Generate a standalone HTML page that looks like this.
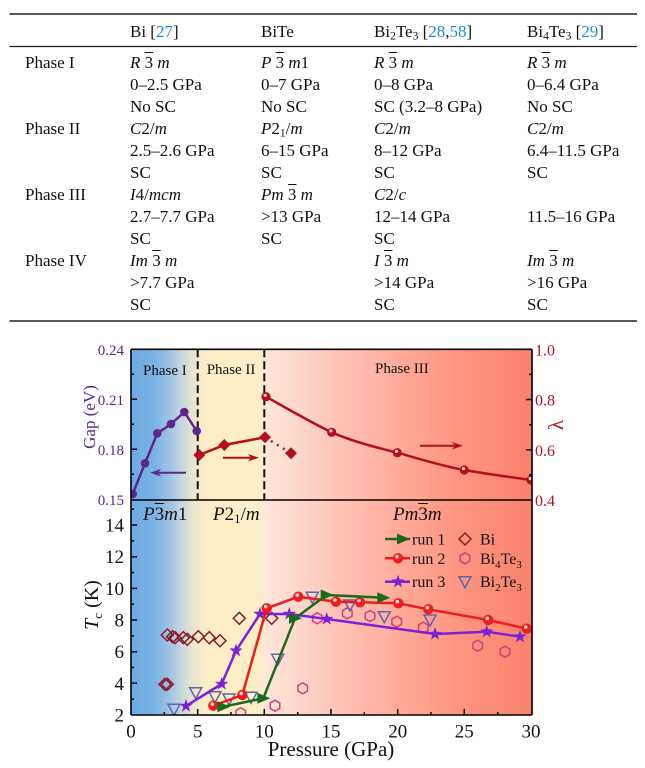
<!DOCTYPE html>
<html><head><meta charset="utf-8">
<style>
html,body{margin:0;padding:0;background:#fff}
#w{position:relative;width:645px;height:768px;overflow:hidden;background:#fff}
svg{position:absolute;left:0;top:0}
.t{position:absolute;font:17px/22px "Liberation Serif",serif;color:#111;white-space:nowrap}
.t i{font-style:italic}
.ob{text-decoration:overline}
.r{color:#1d8ed6}
.t sub{font-size:0.68em;vertical-align:-0.22em;line-height:0}
.lb{position:absolute;font:italic 19px/22px "Liberation Serif",serif;color:#111;white-space:nowrap}
.lb .n{font-style:normal}
.lb sub{font-size:0.68em;vertical-align:-0.25em;line-height:0;font-style:normal}
</style></head><body>
<div id="w">
<svg width="645" height="768" viewBox="0 0 645 768" xmlns="http://www.w3.org/2000/svg">
<defs>
<linearGradient id="bg" gradientUnits="userSpaceOnUse" x1="131" y1="0" x2="532" y2="0">
<stop offset="0" stop-color="#6caae4"/>
<stop offset="0.06" stop-color="#7ab3e4"/>
<stop offset="0.097" stop-color="#a0c4e4"/>
<stop offset="0.127" stop-color="#c8d6dc"/>
<stop offset="0.152" stop-color="#e6e4d2"/>
<stop offset="0.172" stop-color="#f6eac8"/>
<stop offset="0.209" stop-color="#fdeec4"/>
<stop offset="0.317" stop-color="#fdeec6"/>
<stop offset="0.337" stop-color="#ffe6d8"/>
<stop offset="0.421" stop-color="#ffd6cc"/>
<stop offset="0.499" stop-color="#ffc6ba"/>
<stop offset="0.666" stop-color="#ffab98"/>
<stop offset="0.831" stop-color="#ff937e"/>
<stop offset="1" stop-color="#f8826c"/>
</linearGradient>
<clipPath id="cp"><rect x="131" y="349.3" width="401" height="365.7"/></clipPath>
<g id="star"><polygon points="0,-7 1.646,-2.265 6.657,-2.163 2.663,0.865 4.114,5.663 0,2.8 -4.114,5.663 -2.663,0.865 -6.657,-2.163 -1.646,-2.265"/></g>
<g id="tri"><polygon points="-6,-5.5 7,0 -6,5.5"/></g>
<g id="rc"><circle r="5.2" fill="#f01c1c"/><circle cx="-1" cy="-1.6" r="1.8" fill="#fff" opacity="0.85"/></g>
<g id="lc"><circle r="4.6" fill="#b3101e"/><circle cx="-0.8" cy="-1.4" r="1.6" fill="#fff" opacity="0.8"/></g>
<g id="dm"><polygon points="0,-6 6,0 0,6 -6,0" fill="none" stroke="#8c1c2c" stroke-width="1.5"/></g>
<g id="hx"><polygon points="0,-5.5 4.76,-2.75 4.76,2.75 0,5.5 -4.76,2.75 -4.76,-2.75" fill="none" stroke="#d43c7c" stroke-width="1.5"/></g>
<g id="dt"><polygon points="-6,-5 6,-5 0,6" fill="none" stroke="#5868b0" stroke-width="1.5"/></g>
<g id="fd"><polygon points="0,-6 6,0 0,6 -6,0" fill="#b3101e"/></g>
</defs>

<!-- table rules -->
<line x1="9.5" y1="14" x2="637" y2="14" stroke="#222" stroke-width="1.5"/>
<line x1="9.5" y1="46.5" x2="637" y2="46.5" stroke="#222" stroke-width="1.2"/>
<line x1="9.5" y1="321" x2="637" y2="321" stroke="#222" stroke-width="1.5"/>

<!-- chart background -->
<rect x="131" y="349.3" width="401" height="365.7" fill="url(#bg)"/>

<g clip-path="url(#cp)">
<!-- dashed phase lines -->
<line x1="197.7" y1="349.3" x2="197.7" y2="500" stroke="#111" stroke-width="2" stroke-dasharray="8,4"/>
<line x1="264.3" y1="349.3" x2="264.3" y2="500" stroke="#111" stroke-width="2" stroke-dasharray="8,4"/>

<!-- gap series -->
<polyline points="132.7,494 145,463.3 157.3,433.3 171,424 184.3,412 196.7,431" fill="none" stroke="#5e2590" stroke-width="2.5"/>
<g fill="#5e2590">
<circle cx="132.7" cy="494" r="4.3"/><circle cx="145" cy="463.3" r="4.3"/><circle cx="157.3" cy="433.3" r="4.3"/><circle cx="171" cy="424" r="4.3"/><circle cx="184.3" cy="412" r="4.3"/><circle cx="196.7" cy="431" r="4.3"/>
</g>
<line x1="186" y1="472.7" x2="156" y2="472.7" stroke="#5e2590" stroke-width="2"/>
<polygon points="150,472.7 161,469 158,472.7 161,476.4" fill="#5e2590"/>

<!-- lambda series -->
<polyline points="199.3,455 224.3,445 265,437.3" fill="none" stroke="#b3101e" stroke-width="2.5"/>
<line x1="265" y1="437.3" x2="291" y2="453.3" stroke="#b3101e" stroke-width="2.5" stroke-dasharray="2,5"/>
<use href="#fd" x="199.3" y="455"/><use href="#fd" x="224.3" y="445"/><use href="#fd" x="265" y="437.3"/><use href="#fd" x="291" y="453.3"/>
<path d="M266,396.7 C288,409 310,422 331.7,432.3 C354,442 375,447 397.3,452.7 C420,459 442,466 464.3,470 C487,474 509,477 531,480" fill="none" stroke="#b3101e" stroke-width="2.5"/>
<use href="#lc" x="266" y="396.7"/><use href="#lc" x="331.7" y="432.3"/><use href="#lc" x="397.3" y="452.7"/><use href="#lc" x="464.3" y="470"/><use href="#lc" x="531" y="480"/>
<line x1="223" y1="457.7" x2="253" y2="457.7" stroke="#b3101e" stroke-width="2"/>
<polygon points="259,457.7 248,454 251,457.7 248,461.4" fill="#b3101e"/>
<line x1="420" y1="445.7" x2="457" y2="445.7" stroke="#b3101e" stroke-width="2"/>
<polygon points="463,445.7 452,442 455,445.7 452,449.4" fill="#b3101e"/>

<!-- open scatter -->
<use href="#dm" x="167.3" y="635"/><use href="#dm" x="172.7" y="636.7"/><use href="#dm" x="175" y="637.7"/><use href="#dm" x="183.3" y="637.7"/><use href="#dm" x="187.3" y="639.3"/><use href="#dm" x="198.3" y="636.7"/><use href="#dm" x="209.3" y="637.7"/><use href="#dm" x="220" y="640.7"/><use href="#dm" x="239.3" y="618.3"/><use href="#dm" x="271.7" y="618.3"/><use href="#dm" x="165" y="684.3"/><use href="#dm" x="167.3" y="684.3"/>
<use href="#hx" x="240.7" y="713.3"/><use href="#hx" x="275" y="705.7"/><use href="#hx" x="302.7" y="688.3"/><use href="#hx" x="317.3" y="618.3"/><use href="#hx" x="347.3" y="613.3"/><use href="#hx" x="370" y="616"/><use href="#hx" x="396.7" y="621.7"/><use href="#hx" x="423.3" y="627.7"/><use href="#hx" x="477.7" y="645.7"/><use href="#hx" x="505" y="651.7"/>
<use href="#dt" x="174" y="709.3"/><use href="#dt" x="195.7" y="692.7"/><use href="#dt" x="215" y="696.7"/><use href="#dt" x="229" y="699"/><use href="#dt" x="251" y="697.3"/><use href="#dt" x="277.7" y="659.3"/><use href="#dt" x="312.3" y="597.3"/><use href="#dt" x="350" y="605"/><use href="#dt" x="384.3" y="616.7"/><use href="#dt" x="430" y="620"/>

<!-- runs -->
<polyline points="186,706 221.7,684 236,650.7 260,614 289.3,614 326.7,619 435,634 486.7,631.7 520,636.7" fill="none" stroke="#7b22d6" stroke-width="2.5"/>
<g fill="#7b22d6"><use href="#star" x="186" y="706"/><use href="#star" x="221.7" y="684"/><use href="#star" x="236" y="650.7"/><use href="#star" x="260" y="614"/><use href="#star" x="289.3" y="614"/><use href="#star" x="326.7" y="619"/><use href="#star" x="435" y="634"/><use href="#star" x="486.7" y="631.7"/><use href="#star" x="520" y="636.7"/></g>
<polyline points="213.3,705.7 242.3,695 266.7,608.3 298.3,596.7 336,601.7 360,602.3 398.3,603.3 428.3,609.3 488.3,620 526.7,628.7" fill="none" stroke="#f01c1c" stroke-width="2.5"/>
<use href="#rc" x="213.3" y="705.7"/><use href="#rc" x="242.3" y="695"/><use href="#rc" x="266.7" y="608.3"/><use href="#rc" x="298.3" y="596.7"/><use href="#rc" x="336" y="601.7"/><use href="#rc" x="360" y="602.3"/><use href="#rc" x="398.3" y="603.3"/><use href="#rc" x="428.3" y="609.3"/><use href="#rc" x="488.3" y="620"/><use href="#rc" x="526.7" y="628.7"/>
<polyline points="223.3,706.7 263.3,698.3 295,618.3 326.7,595 383.3,597.7" fill="none" stroke="#1b6a1b" stroke-width="2.5"/>
<g fill="#1b6a1b"><use href="#tri" x="223.3" y="706.7"/><use href="#tri" x="263.3" y="698.3"/><use href="#tri" x="295" y="618.3"/><use href="#tri" x="326.7" y="595"/><use href="#tri" x="383.3" y="597.7"/></g>
</g>

<!-- frame -->
<g stroke="#000" stroke-width="1.6" fill="none">
<line x1="131" y1="349.3" x2="532" y2="349.3"/>
<line x1="131" y1="349.3" x2="131" y2="715"/>
<line x1="532" y1="349.3" x2="532" y2="715"/>
<line x1="131" y1="500" x2="532" y2="500"/>
<line x1="131" y1="715" x2="532" y2="715"/>
</g>
<!-- ticks -->
<path d="M131 399.3h6M131 449.3h6M131 374.3h3M131 424.3h3M131 474.3h3
M532 399.5h-6M532 449.8h-6M532 374.4h-3M532 424.7h-3M532 474.9h-3
M131 683.3h6M131 651.7h6M131 620h6M131 588.4h6M131 556.7h6M131 525h6
M131 699.2h3M131 667.5h3M131 635.9h3M131 604.2h3M131 572.5h3M131 540.9h3M131 509.2h3
M197.7 715v-6M264.3 715v-6M331 715v-6M397.7 715v-6M464.3 715v-6
M164.3 715v-3M231 715v-3M297.7 715v-3M364.3 715v-3M431 715v-3M497.7 715v-3" stroke="#000" stroke-width="1.5" fill="none"/>

<!-- tick labels -->
<g font-family="Liberation Serif, serif" font-size="15" fill="#5a2590" text-anchor="end">
<text x="124" y="355">0.24</text><text x="124" y="405">0.21</text><text x="124" y="455">0.18</text><text x="124" y="505">0.15</text>
</g>
<g font-family="Liberation Serif, serif" font-size="16" fill="#b01424">
<text x="535" y="355.5">1.0</text><text x="535" y="405.5">0.8</text><text x="535" y="456">0.6</text><text x="535" y="506">0.4</text>
</g>
<g font-family="Liberation Serif, serif" font-size="19" fill="#111" text-anchor="end">
<text x="124" y="531.5">14</text><text x="124" y="563.2">12</text><text x="124" y="594.9">10</text><text x="124" y="626.5">8</text><text x="124" y="658.2">6</text><text x="124" y="689.8">4</text><text x="124" y="721.5">2</text>
</g>
<g font-family="Liberation Serif, serif" font-size="19" fill="#111" text-anchor="middle">
<text x="131" y="737.5">0</text><text x="197.7" y="737.5">5</text><text x="264.3" y="737.5">10</text><text x="331" y="737.5">15</text><text x="397.7" y="737.5">20</text><text x="464.3" y="737.5">25</text><text x="531" y="737.5">30</text>
</g>
<text x="331" y="756" font-family="Liberation Serif, serif" font-size="21" fill="#111" text-anchor="middle">Pressure (GPa)</text>
<text transform="translate(95,417) rotate(-90)" font-family="Liberation Serif, serif" font-size="17" fill="#5a2590" text-anchor="middle">Gap (eV)</text>
<text transform="translate(98,605) rotate(-90)" font-family="Liberation Serif, serif" font-size="20" fill="#111" text-anchor="middle"><tspan font-style="italic">T</tspan><tspan font-size="13" dy="4">c</tspan><tspan dy="-4"> (K)</tspan></text>
<text transform="translate(563,425) rotate(-90)" font-family="Liberation Serif, serif" font-size="21" fill="#b01424" text-anchor="middle">λ</text>

<!-- phase labels -->
<g font-family="Liberation Serif, serif" font-size="15" fill="#111">
<text x="143" y="375">Phase I</text><text x="206.7" y="374">Phase II</text><text x="375" y="373">Phase III</text>
</g>

<!-- legend -->
<line x1="385" y1="539" x2="410" y2="539" stroke="#1b6a1b" stroke-width="2.5"/>
<g fill="#1b6a1b"><use href="#tri" x="403" y="539"/></g>
<line x1="385" y1="558.3" x2="410" y2="558.3" stroke="#f01c1c" stroke-width="2.5"/>
<use href="#rc" x="398" y="558.3"/>
<line x1="385" y1="581.7" x2="410" y2="581.7" stroke="#7b22d6" stroke-width="2.5"/>
<g fill="#7b22d6"><use href="#star" x="398" y="581.7"/></g>
<use href="#dm" x="465" y="539"/><use href="#hx" x="465" y="558.3"/><use href="#dt" x="465" y="581.7"/>
<g font-family="Liberation Serif, serif" font-size="16" fill="#111">
<text x="412" y="544.5">run 1</text><text x="412" y="564">run 2</text><text x="412" y="587">run 3</text>
<text x="480" y="544.5">Bi</text>
<text x="480" y="564">Bi<tspan font-size="11" dy="4">4</tspan><tspan dy="-4">Te</tspan><tspan font-size="11" dy="4">3</tspan></text>
<text x="480" y="587">Bi<tspan font-size="11" dy="4">2</tspan><tspan dy="-4">Te</tspan><tspan font-size="11" dy="4">3</tspan></text>
</g>
</svg>

<!-- chart overline labels -->
<div class="lb" style="left:143px;top:504px"><i>P</i><span class="n ob">3</span><i>m</i><span class="n">1</span></div>
<div class="lb" style="left:213px;top:504px"><i>P</i><span class="n">2</span><sub>1</sub><span class="n">/</span><i>m</i></div>
<div class="lb" style="left:393px;top:504px"><i>Pm</i><span class="n ob">3</span><i>m</i></div>

<!-- table -->
<div class="t" style="left:130px;top:20.7px">Bi [<span class="r">27</span>]</div>
<div class="t" style="left:261px;top:20.7px">BiTe</div>
<div class="t" style="left:374px;top:20.7px">Bi<sub>2</sub>Te<sub>3</sub> [<span class="r">28</span>,<span class="r">58</span>]</div>
<div class="t" style="left:527px;top:20.7px">Bi<sub>4</sub>Te<sub>3</sub> [<span class="r">29</span>]</div>

<div class="t" style="left:25px;top:52.3px">Phase I</div>
<div class="t" style="left:130px;top:52.3px"><i>R</i> <span class="ob">3</span> <i>m</i></div>
<div class="t" style="left:261px;top:52.3px"><i>P</i> <span class="ob">3</span> <i>m</i>1</div>
<div class="t" style="left:374px;top:52.3px"><i>R</i> <span class="ob">3</span> <i>m</i></div>
<div class="t" style="left:527px;top:52.3px"><i>R</i> <span class="ob">3</span> <i>m</i></div>

<div class="t" style="left:130px;top:74.3px">0–2.5 GPa</div>
<div class="t" style="left:261px;top:74.3px">0–7 GPa</div>
<div class="t" style="left:374px;top:74.3px">0–8 GPa</div>
<div class="t" style="left:527px;top:74.3px">0–6.4 GPa</div>

<div class="t" style="left:130px;top:96.3px">No SC</div>
<div class="t" style="left:261px;top:96.3px">No SC</div>
<div class="t" style="left:374px;top:96.3px">SC (3.2–8 GPa)</div>
<div class="t" style="left:527px;top:96.3px">No SC</div>

<div class="t" style="left:25px;top:118.3px">Phase II</div>
<div class="t" style="left:130px;top:118.3px"><i>C</i>2/<i>m</i></div>
<div class="t" style="left:261px;top:118.3px"><i>P</i>2<sub>1</sub>/<i>m</i></div>
<div class="t" style="left:374px;top:118.3px"><i>C</i>2/<i>m</i></div>
<div class="t" style="left:527px;top:118.3px"><i>C</i>2/<i>m</i></div>

<div class="t" style="left:130px;top:140.3px">2.5–2.6 GPa</div>
<div class="t" style="left:261px;top:140.3px">6–15 GPa</div>
<div class="t" style="left:374px;top:140.3px">8–12 GPa</div>
<div class="t" style="left:527px;top:140.3px">6.4–11.5 GPa</div>

<div class="t" style="left:130px;top:162.3px">SC</div>
<div class="t" style="left:261px;top:162.3px">SC</div>
<div class="t" style="left:374px;top:162.3px">SC</div>
<div class="t" style="left:527px;top:162.3px">SC</div>

<div class="t" style="left:25px;top:184.3px">Phase III</div>
<div class="t" style="left:130px;top:184.3px"><i>I</i>4/<i>mcm</i></div>
<div class="t" style="left:261px;top:184.3px"><i>Pm</i> <span class="ob">3</span> <i>m</i></div>
<div class="t" style="left:374px;top:184.3px"><i>C</i>2/<i>c</i></div>

<div class="t" style="left:130px;top:206.3px">2.7–7.7 GPa</div>
<div class="t" style="left:261px;top:206.3px">&gt;13 GPa</div>
<div class="t" style="left:374px;top:206.3px">12–14 GPa</div>
<div class="t" style="left:527px;top:206.3px">11.5–16 GPa</div>

<div class="t" style="left:130px;top:228.3px">SC</div>
<div class="t" style="left:261px;top:228.3px">SC</div>
<div class="t" style="left:374px;top:228.3px">SC</div>

<div class="t" style="left:25px;top:250.3px">Phase IV</div>
<div class="t" style="left:130px;top:250.3px"><i>Im</i> <span class="ob">3</span> <i>m</i></div>
<div class="t" style="left:374px;top:250.3px"><i>I</i> <span class="ob">3</span> <i>m</i></div>
<div class="t" style="left:527px;top:250.3px"><i>Im</i> <span class="ob">3</span> <i>m</i></div>

<div class="t" style="left:130px;top:272.3px">&gt;7.7 GPa</div>
<div class="t" style="left:374px;top:272.3px">&gt;14 GPa</div>
<div class="t" style="left:527px;top:272.3px">&gt;16 GPa</div>

<div class="t" style="left:130px;top:294.3px">SC</div>
<div class="t" style="left:374px;top:294.3px">SC</div>
<div class="t" style="left:527px;top:294.3px">SC</div>
</div>
</body></html>
